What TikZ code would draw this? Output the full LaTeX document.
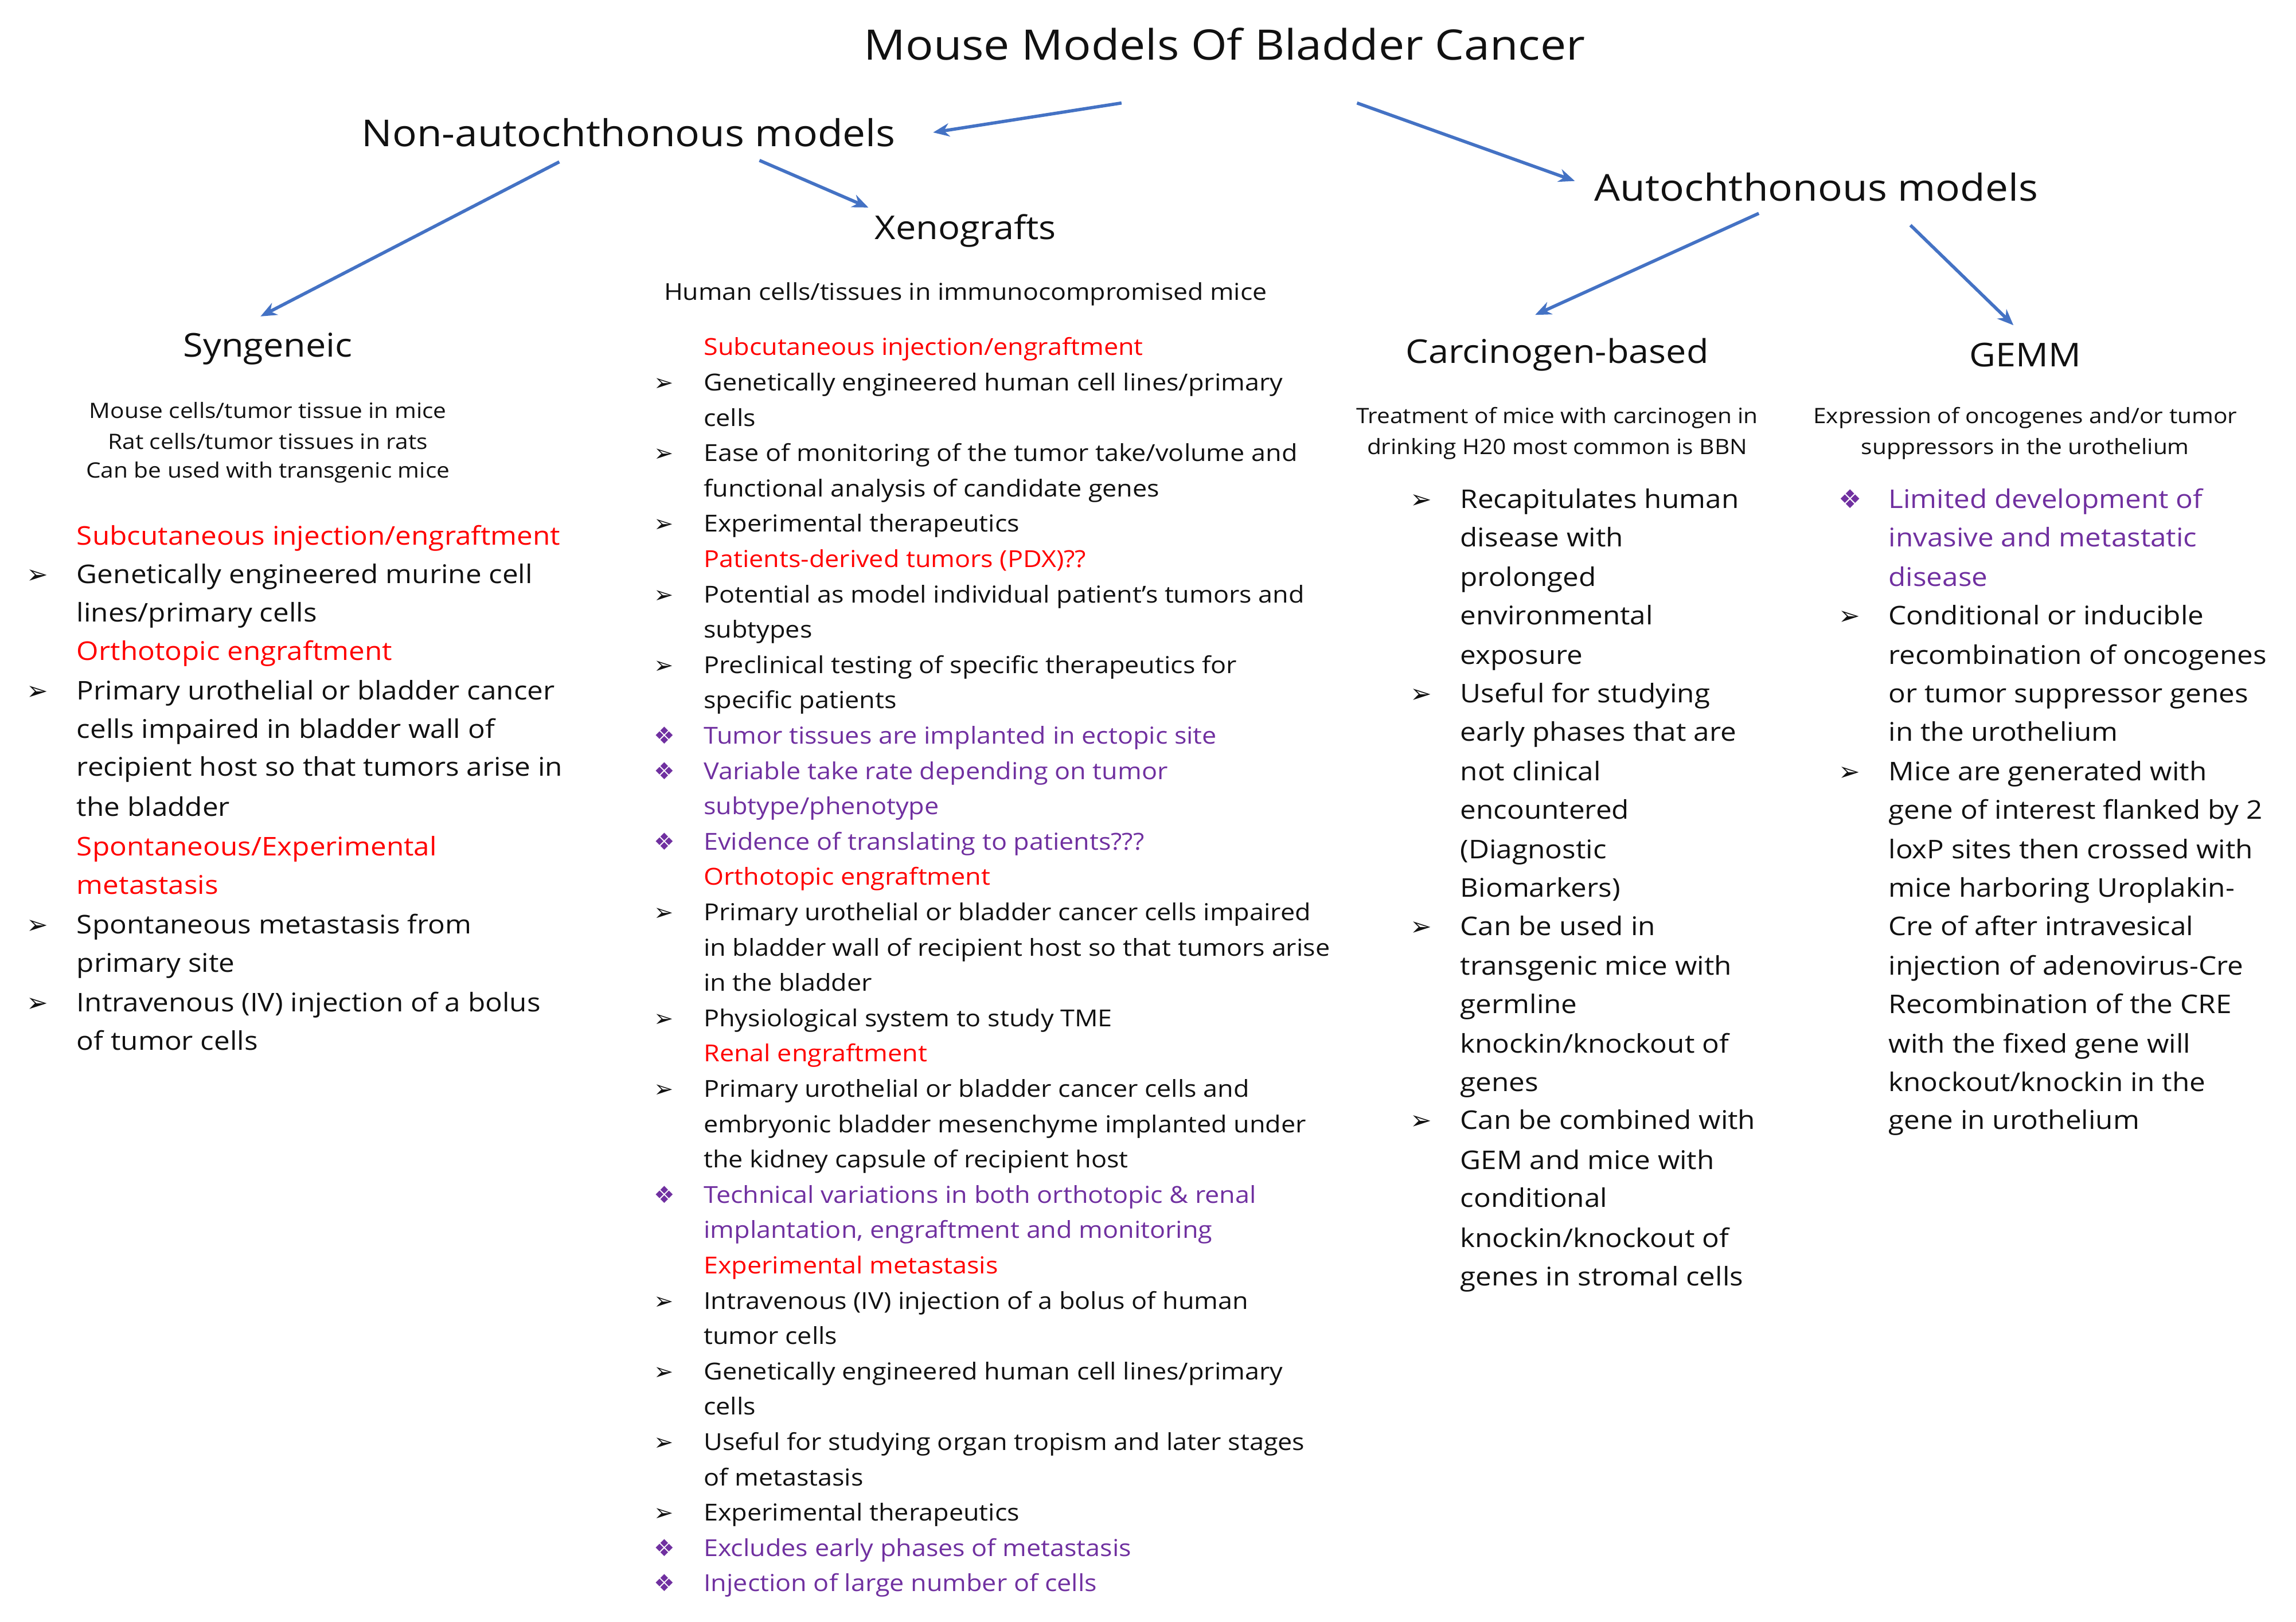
\documentclass[tikz,border=0pt]{standalone}
\usepackage{fontspec}
\setmainfont{Open Sans}[FakeStretch=1.1]
\newfontfamily\sym{DejaVu Sans}
\usetikzlibrary{arrows.meta}
\definecolor{ared}{HTML}{FF0000}
\definecolor{apur}{HTML}{7030A0}
\definecolor{ablue}{HTML}{4472C4}
\definecolor{atxt}{HTML}{111111}
\newcounter{lnc}
\tikzset{
  ln/.style={anchor=west,inner sep=0pt,text height=0.72em,text depth=0.22em,text=atxt},
  big/.style={font=\fontsize{17.5}{20}\selectfont},
  mid/.style={font=\fontsize{15.9}{18}\selectfont},
  sml/.style={font=\fontsize{14.4}{16}\selectfont,anchor=center,inner sep=0pt,text=atxt},
  ttl/.style={font=\fontsize{22.3}{25}\selectfont,anchor=center,inner sep=0pt,text=atxt},
  con/.style={draw=ablue,line width=2.2pt,-{Stealth[length=11pt,width=9pt]}},
}
\newcommand{\Lx}[5]{\stepcounter{lnc}\node[ln,#3,text=#4] (L\arabic{lnc}) at (#1,#2) {#5};}
\newcommand{\Bar}[3]{\stepcounter{lnc}\node[ln,#3] (B\arabic{lnc}) at (#1,#2) {\sym ➢};}
\newcommand{\Bdi}[3]{\stepcounter{lnc}\node[ln,#3,text=apur] (D\arabic{lnc}) at (#1,#2) {\sym ❖};}
\begin{document}
\begin{tikzpicture}[x=1pt,y=-1pt]
\useasboundingbox[fill=white] (0,0) rectangle (1560,1102);
\node[ttl,font=\fontsize{28.5}{32}\selectfont] (top) at (832,30) {Mouse Models Of Bladder Cancer};
\node[ttl,font=\fontsize{25.2}{28}\selectfont] (non) at (427,90) {Non-autochthonous models};
\node[ttl,font=\fontsize{25.2}{28}\selectfont] (aut) at (1234,127) {Autochthonous models};
\node[ttl] (syn) at (182,237) {Syngeneic};
\node[ttl] (xen) at (656,157) {Xenografts};
\node[ttl] (car) at (1058,241) {Carcinogen-based};
\node[ttl] (gem) at (1376,241) {GEMM};
\coordinate (a1) at (762,70); \coordinate (a2) at (922,70);
\coordinate (b1) at (380,110); \coordinate (b2) at (516,109);
\coordinate (c1) at (1195,145); \coordinate (c2) at (1298,153);
\draw[con] (a1) -- (634,90) coordinate (non-e);
\draw[con] (a2) -- (1070,123) coordinate (aut-e);
\draw[con] (b1) -- (177,215) coordinate (syn-e);
\draw[con] (b2) -- (590,141) coordinate (xen-e);
\draw[con] (c1) -- (1043,214) coordinate (car-e);
\draw[con] (c2) -- (1368,221) coordinate (gem-e);
\node[sml] (s1) at (182,279) {Mouse cells/tumor tissue in mice};
\node[sml] (s2) at (182,300) {Rat cells/tumor tissues in rats};
\node[sml] (s3) at (182,321) {Can be used with transgenic mice};
\node[sml,font=\fontsize{15.8}{18}\selectfont] (s4) at (656,200) {Human cells/tissues in immunocompromised mice};
\node[sml] (s5) at (1058,284) {Treatment of mice with carcinogen in};
\node[sml] (s6) at (1058,305) {drinking H20 most common is BBN};
\node[sml] (s7) at (1376,284) {Expression of oncogenes and/or tumor};
\node[sml] (s8) at (1376,305) {suppressors in the urothelium};
% Syngeneic column
\Lx{52}{368}{big}{ared}{Subcutaneous injection/engraftment}
\Bar{18}{394}{big}\Lx{52}{394}{big}{atxt}{Genetically engineered murine cell}
\Lx{52}{420}{big}{atxt}{lines/primary cells}
\Lx{52}{446}{big}{ared}{Orthotopic engraftment}
\Bar{18}{473}{big}\Lx{52}{473}{big}{atxt}{Primary urothelial or bladder cancer}
\Lx{52}{499}{big}{atxt}{cells impaired in bladder wall of}
\Lx{52}{525}{big}{atxt}{recipient host so that tumors arise in}
\Lx{52}{552}{big}{atxt}{the bladder}
\Lx{52}{579}{big}{ared}{Spontaneous/Experimental}
\Lx{52}{605}{big}{ared}{metastasis}
\Bar{18}{632}{big}\Lx{52}{632}{big}{atxt}{Spontaneous metastasis from}
\Lx{52}{658}{big}{atxt}{primary site}
\Bar{18}{685}{big}\Lx{52}{685}{big}{atxt}{Intravenous (IV) injection of a bolus}
\Lx{52}{711}{big}{atxt}{of tumor cells}
% Xenograft column
\Lx{478}{239}{mid}{ared}{Subcutaneous injection/engraftment}
\Bar{444}{263}{mid}\Lx{478}{263}{mid}{atxt}{Genetically engineered human cell lines/primary}
\Lx{478}{287}{mid}{atxt}{cells}
\Bar{444}{311}{mid}\Lx{478}{311}{mid}{atxt}{Ease of monitoring of the tumor take/volume and}
\Lx{478}{335}{mid}{atxt}{functional analysis of candidate genes}
\Bar{444}{359}{mid}\Lx{478}{359}{mid}{atxt}{Experimental therapeutics}
\Lx{478}{383}{mid}{ared}{Patients-derived tumors (PDX)??}
\Bar{444}{407}{mid}\Lx{478}{407}{mid}{atxt}{Potential as model individual patient’s tumors and}
\Lx{478}{431}{mid}{atxt}{subtypes}
\Bar{444}{455}{mid}\Lx{478}{455}{mid}{atxt}{Preclinical testing of specific therapeutics for}
\Lx{478}{479}{mid}{atxt}{specific patients}
\Bdi{444}{503}{mid}\Lx{478}{503}{mid}{apur}{Tumor tissues are implanted in ectopic site}
\Bdi{444}{527}{mid}\Lx{478}{527}{mid}{apur}{Variable take rate depending on tumor}
\Lx{478}{551}{mid}{apur}{subtype/phenotype}
\Bdi{444}{575}{mid}\Lx{478}{575}{mid}{apur}{Evidence of translating to patients???}
\Lx{478}{599}{mid}{ared}{Orthotopic engraftment}
\Bar{444}{623}{mid}\Lx{478}{623}{mid}{atxt}{Primary urothelial or bladder cancer cells impaired}
\Lx{478}{647}{mid}{atxt}{in bladder wall of recipient host so that tumors arise}
\Lx{478}{671}{mid}{atxt}{in the bladder}
\Bar{444}{695}{mid}\Lx{478}{695}{mid}{atxt}{Physiological system to study TME}
\Lx{478}{719}{mid}{ared}{Renal engraftment}
\Bar{444}{743}{mid}\Lx{478}{743}{mid}{atxt}{Primary urothelial or bladder cancer cells and}
\Lx{478}{767}{mid}{atxt}{embryonic bladder mesenchyme implanted under}
\Lx{478}{791}{mid}{atxt}{the kidney capsule of recipient host}
\Bdi{444}{815}{mid}\Lx{478}{815}{mid}{apur}{Technical variations in both orthotopic \& renal}
\Lx{478}{839}{mid}{apur}{implantation, engraftment and monitoring}
\Lx{478}{863}{mid}{ared}{Experimental metastasis}
\Bar{444}{887}{mid}\Lx{478}{887}{mid}{atxt}{Intravenous (IV) injection of a bolus of human}
\Lx{478}{911}{mid}{atxt}{tumor cells}
\Bar{444}{935}{mid}\Lx{478}{935}{mid}{atxt}{Genetically engineered human cell lines/primary}
\Lx{478}{959}{mid}{atxt}{cells}
\Bar{444}{983}{mid}\Lx{478}{983}{mid}{atxt}{Useful for studying organ tropism and later stages}
\Lx{478}{1007}{mid}{atxt}{of metastasis}
\Bar{444}{1031}{mid}\Lx{478}{1031}{mid}{atxt}{Experimental therapeutics}
\Bdi{444}{1055}{mid}\Lx{478}{1055}{mid}{apur}{Excludes early phases of metastasis}
\Bdi{444}{1079}{mid}\Lx{478}{1079}{mid}{apur}{Injection of large number of cells}
% Carcinogen column
\Bar{958}{343}{big}\Lx{992}{343}{big}{atxt}{Recapitulates human}
\Lx{992}{369}{big}{atxt}{disease with}
\Lx{992}{396}{big}{atxt}{prolonged}
\Lx{992}{422}{big}{atxt}{environmental}
\Lx{992}{449}{big}{atxt}{exposure}
\Bar{958}{475}{big}\Lx{992}{475}{big}{atxt}{Useful for studying}
\Lx{992}{501}{big}{atxt}{early phases that are}
\Lx{992}{528}{big}{atxt}{not clinical}
\Lx{992}{554}{big}{atxt}{encountered}
\Lx{992}{581}{big}{atxt}{(Diagnostic}
\Lx{992}{607}{big}{atxt}{Biomarkers)}
\Bar{958}{633}{big}\Lx{992}{633}{big}{atxt}{Can be used in}
\Lx{992}{660}{big}{atxt}{transgenic mice with}
\Lx{992}{686}{big}{atxt}{germline}
\Lx{992}{713}{big}{atxt}{knockin/knockout of}
\Lx{992}{739}{big}{atxt}{genes}
\Bar{958}{765}{big}\Lx{992}{765}{big}{atxt}{Can be combined with}
\Lx{992}{792}{big}{atxt}{GEM and mice with}
\Lx{992}{818}{big}{atxt}{conditional}
\Lx{992}{845}{big}{atxt}{knockin/knockout of}
\Lx{992}{871}{big}{atxt}{genes in stromal cells}
% GEMM column
\Bdi{1249}{343}{big}\Lx{1283}{343}{big}{apur}{Limited development of}
\Lx{1283}{369}{big}{apur}{invasive and metastatic}
\Lx{1283}{396}{big}{apur}{disease}
\Bar{1249}{422}{big}\Lx{1283}{422}{big}{atxt}{Conditional or inducible}
\Lx{1283}{449}{big}{atxt}{recombination of oncogenes}
\Lx{1283}{475}{big}{atxt}{or tumor suppressor genes}
\Lx{1283}{501}{big}{atxt}{in the urothelium}
\Bar{1249}{528}{big}\Lx{1283}{528}{big}{atxt}{Mice are generated with}
\Lx{1283}{554}{big}{atxt}{gene of interest flanked by 2}
\Lx{1283}{581}{big}{atxt}{loxP sites then crossed with}
\Lx{1283}{607}{big}{atxt}{mice harboring Uroplakin-}
\Lx{1283}{633}{big}{atxt}{Cre of after intravesical}
\Lx{1283}{660}{big}{atxt}{injection of adenovirus-Cre}
\Lx{1283}{686}{big}{atxt}{Recombination of the CRE}
\Lx{1283}{713}{big}{atxt}{with the fixed gene will}
\Lx{1283}{739}{big}{atxt}{knockout/knockin in the}
\Lx{1283}{765}{big}{atxt}{gene in urothelium}
\end{tikzpicture}
\end{document}
